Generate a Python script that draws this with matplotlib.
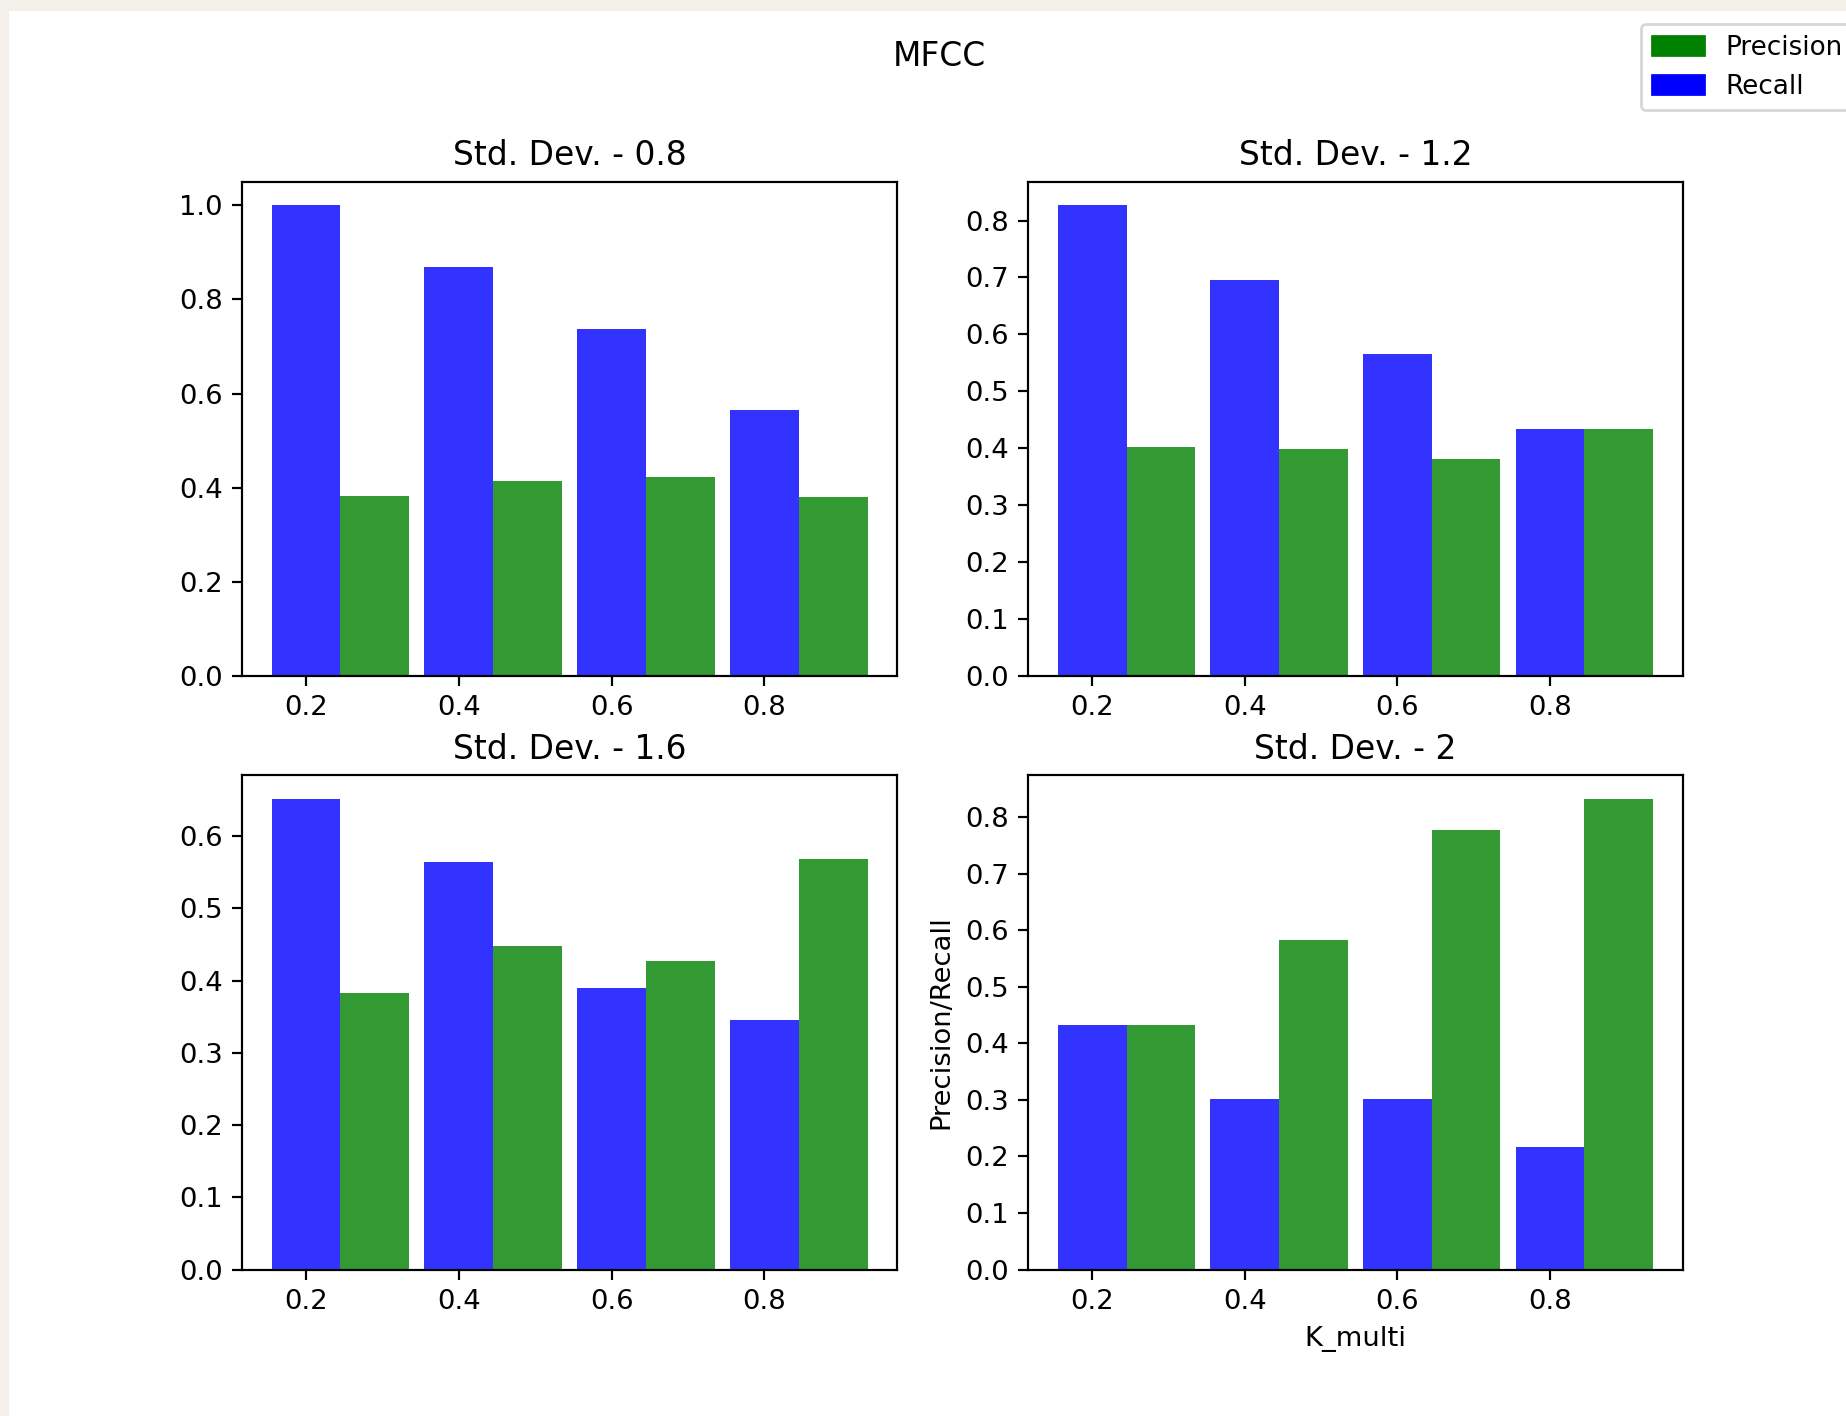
import matplotlib
matplotlib.use("Agg")
import matplotlib.pyplot as plt
from matplotlib.patches import Patch, Rectangle
import numpy as np

k_multi = [0.2, 0.4, 0.6, 0.8]
std_titles = ["Std. Dev. - 0.8", "Std. Dev. - 1.2", "Std. Dev. - 1.6", "Std. Dev. - 2"]
recall_08 = [1.0, 0.868, 0.738, 0.564]
precision_08 = [0.382, 0.414, 0.423, 0.380]
recall_12 = [0.827, 0.695, 0.565, 0.434]
precision_12 = [0.402, 0.399, 0.381, 0.434]
recall_16 = [0.652, 0.564, 0.390, 0.346]
precision_16 = [0.383, 0.448, 0.427, 0.569]
recall_20 = [0.433, 0.302, 0.302, 0.217]
precision_20 = [0.433, 0.582, 0.777, 0.833]

recalls = [recall_08, recall_12, recall_16, recall_20]
precisions = [precision_08, precision_12, precision_16, precision_20]

W, H, DPI = 1846, 1416, 197
fig = plt.figure(figsize=(W / DPI, H / DPI), dpi=DPI)
fig.patch.set_facecolor("#f3f0ea")
fig.patches.append(Rectangle((9 / W, 0), 1 - 9 / W, 1 - 11 / H, transform=fig.transFigure,
                             facecolor="white", edgecolor="none", zorder=-10))

def rect(x0, y0, x1, y1):
    return [x0 / W, 1 - y1 / H, (x1 - x0) / W, (y1 - y0) / H]

dx, dy = 1.5, 1.5
positions = [rect(240.2 + dx, 180.1 + dy, 895.9 + dx, 674.6 + dy),
             rect(1026.6 + dx, 180.1 + dy, 1681.2 + dx, 674.6 + dy),
             rect(240.2 + dx, 773.5 + dy, 895.9 + dx, 1268.0 + dy),
             rect(1026.6 + dx, 773.5 + dy, 1681.2 + dx, 1268.0 + dy)]

width = 0.09
x = np.array(k_multi)
for i in range(4):
    ax = fig.add_axes(positions[i])
    ax.bar(x, recalls[i], width, color="blue", alpha=0.8)
    ax.bar(x + width, precisions[i], width, color="green", alpha=0.8)
    ax.set_xticks(k_multi)
    ax.set_xticklabels([str(v) for v in k_multi])
    ax.set_title(std_titles[i], fontsize=12)
    if i == 3:
        ax.set_xlabel("K_multi")
        ax.set_ylabel("Precision/Recall")

fig.text(939 / W, 1 - 40 / H, "MFCC", ha="center", va="top", fontsize=12)

handles = [Patch(color="green", label="Precision"), Patch(color="blue", label="Recall")]
fig.legend(handles=handles, loc="upper right", bbox_to_anchor=(1866 / W, 1 - 11 / H),
           fontsize=9.6)

fig.savefig("out.png", dpi=DPI, facecolor=fig.get_facecolor())
